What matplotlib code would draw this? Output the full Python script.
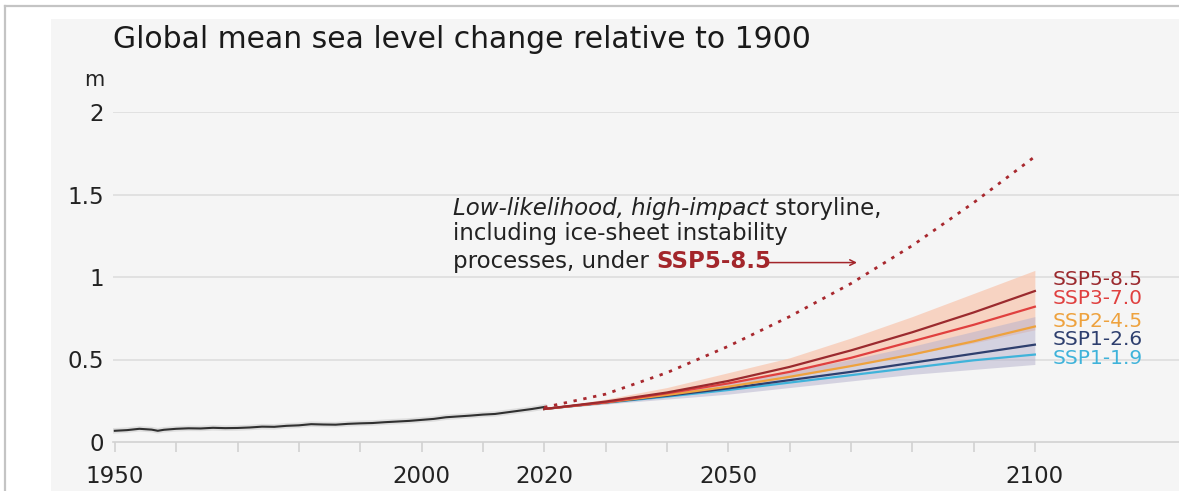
import matplotlib
matplotlib.use("Agg")
import matplotlib.pyplot as plt
from matplotlib.patches import Rectangle
from matplotlib.lines import Line2D

plt.rcParams['font.family'] = ['DejaVu Sans']

# --------------------------------------------------------
# data

hist_years = [1950, 1952, 1954, 1956, 1957, 1958, 1960, 1962, 1964, 1966, 1968, 1970,
              1972, 1974, 1976, 1978, 1980, 1982, 1984, 1986, 1988, 1990, 1992, 1994,
              1996, 1998, 2000, 2002, 2004, 2006, 2008, 2010, 2012, 2014, 2016, 2018, 2020]
hist_vals = [0.068, 0.072, 0.080, 0.075, 0.068, 0.074, 0.080, 0.083, 0.082, 0.086, 0.084, 0.085,
             0.088, 0.093, 0.092, 0.098, 0.101, 0.108, 0.106, 0.105, 0.110, 0.113, 0.115, 0.120,
             0.124, 0.128, 0.134, 0.140, 0.150, 0.155, 0.160, 0.166, 0.170, 0.180, 0.190, 0.200, 0.212]

proj_years = [2020, 2030, 2040, 2050, 2060, 2070, 2080, 2090, 2100]
ssp585 = [0.20, 0.245, 0.30, 0.37, 0.455, 0.555, 0.665, 0.785, 0.915]
ssp370 = [0.20, 0.24, 0.295, 0.355, 0.425, 0.51, 0.61, 0.71, 0.82]
ssp245 = [0.20, 0.24, 0.285, 0.335, 0.395, 0.46, 0.53, 0.61, 0.70]
ssp126 = [0.20, 0.24, 0.28, 0.325, 0.375, 0.425, 0.48, 0.535, 0.59]
ssp119 = [0.20, 0.238, 0.275, 0.315, 0.36, 0.405, 0.45, 0.495, 0.53]

ssp585_hi = [0.20, 0.26, 0.33, 0.42, 0.51, 0.63, 0.76, 0.90, 1.04]
ssp585_lo = [0.20, 0.23, 0.28, 0.33, 0.39, 0.46, 0.53, 0.60, 0.68]
ssp126_hi = [0.20, 0.25, 0.30, 0.36, 0.43, 0.50, 0.58, 0.67, 0.76]
ssp126_lo = [0.20, 0.23, 0.26, 0.29, 0.33, 0.37, 0.41, 0.44, 0.47]

storyline = [0.21, 0.29, 0.42, 0.58, 0.76, 0.96, 1.19, 1.45, 1.73]

scenarios = ["SSP5-8.5", "SSP3-7.0", "SSP2-4.5", "SSP1-2.6", "SSP1-1.9"]
scen_colors = ["#9b2a2e", "#e0403f", "#eea23e", "#2e3f6e", "#3fb3da"]
scen_label_y = [0.982, 0.867, 0.733, 0.624, 0.509]

tick_years = list(range(1950, 2101, 10))
label_years = [1950, 2000, 2020, 2050, 2100]

# --------------------------------------------------------

W, H = 1179, 491
fig = plt.figure(figsize=(W / 100, H / 100), dpi=100)
fig.patch.set_facecolor("white")

# light panel and the grey frame of the screenshot
fig.patches.append(Rectangle((51 / W, 0), 1 - 51 / W, 1 - 19 / H, transform=fig.transFigure,
                             facecolor="#f5f5f5", edgecolor="none", zorder=-5))
fig.lines.append(Line2D([5 / W, 1], [1 - 6 / H, 1 - 6 / H], transform=fig.transFigure,
                        color="#c4c4c4", lw=1.6, zorder=-5))
fig.lines.append(Line2D([5 / W, 5 / W], [0, 1 - 6 / H], transform=fig.transFigure,
                        color="#c4c4c4", lw=1.6, zorder=-5))

ax = fig.add_axes([113 / W, 1 - 442 / H, 1 - 113 / W, 330 / H])
ax.set_facecolor("none")
ax.set_xlim(1949.7, 2123.5)
ax.set_ylim(0, 2)

for s in ["top", "right", "left"]:
    ax.spines[s].set_visible(False)
ax.spines["bottom"].set_color("#d2d2d2")
ax.spines["bottom"].set_linewidth(1.2)

ax.set_yticks([0, 0.5, 1, 1.5, 2])
ax.set_yticklabels(["0", "0.5", "1", "1.5", "2"])
ax.tick_params(axis="y", length=0, pad=6.5, labelsize=16.5, labelcolor="#222222")
ax.set_xticks(tick_years)
ax.set_xticklabels([str(y) if y in label_years else "" for y in tick_years])
ax.tick_params(axis="x", length=7.5, width=1.2, color="#d2d2d2", pad=9,
               labelsize=16.5, labelcolor="#222222")
for g in [0.5, 1, 1.5, 2]:
    ax.axhline(g, color="#dcdcdc", lw=1.1, zorder=0)

# uncertainty bands
ax.fill_between(proj_years, ssp585_lo, ssp585_hi, color="#f9c8b2", alpha=0.75, lw=0, zorder=1)
ax.fill_between(proj_years, ssp126_lo, ssp126_hi, color="#b4b1cc", alpha=0.5, lw=0, zorder=1)

# observed
ax.plot(hist_years, hist_vals, color="#d0d0d0", lw=4, alpha=0.6, zorder=2)
ax.plot(hist_years, hist_vals, color="#303030", lw=1.5, zorder=3)

# projections, lowest first so SSP5-8.5 sits on top
series = [ssp585, ssp370, ssp245, ssp126, ssp119]
for vals, col in list(zip(series, scen_colors))[::-1]:
    ax.plot(proj_years, vals, color=col, lw=1.6, zorder=4)

ax.plot(proj_years, storyline, color="#a8282e", lw=2, linestyle=(0, (1.2, 2.4)), zorder=4)

for name, col, yy in zip(scenarios, scen_colors, scen_label_y):
    ax.text(2102.9, yy, name, color=col, fontsize=14.5, va="center", ha="left")

# storyline annotation
fs = 16.5
t1 = ax.text(2005.1, 1.376, "Low-likelihood, high-impact", fontsize=fs, style="italic",
             color="#222222", va="baseline", ha="left")
ax.annotate(" storyline,", xy=(1, 0), xycoords=t1, va="bottom", ha="left",
            fontsize=fs, color="#222222")
ax.text(2005.1, 1.224, "including ice-sheet instability", fontsize=fs, color="#222222",
        va="baseline", ha="left")
t3 = ax.text(2005.1, 1.055, "processes, under ", fontsize=fs, color="#222222",
             va="baseline", ha="left")
t4 = ax.annotate("SSP5-8.5", xy=(1, 0), xycoords=t3, va="bottom", ha="left",
                 fontsize=fs, fontweight="bold", color="#a3262b")

# arrow from the end of the bold label, at mid cap height
fig.canvas.draw()
bb = t4.get_window_extent()
inv = ax.transData.inverted()
x0, ymid = inv.transform((bb.x1 - 3, bb.y0 + bb.height * 0.45))
ax.annotate("", xy=(2071.0, ymid), xytext=(x0, ymid),
            arrowprops=dict(arrowstyle="->", color="#a3262b", lw=1.1, shrinkA=0, shrinkB=0))

fig.text(113 / W, 1 - 48 / H, "Global mean sea level change relative to 1900",
         fontsize=21.5, color="#1a1a1a", va="baseline", ha="left")
fig.text(104 / W, 1 - 80 / H, "m", fontsize=15, color="#222222", va="center", ha="right")

fig.savefig("out.png", dpi=100)
